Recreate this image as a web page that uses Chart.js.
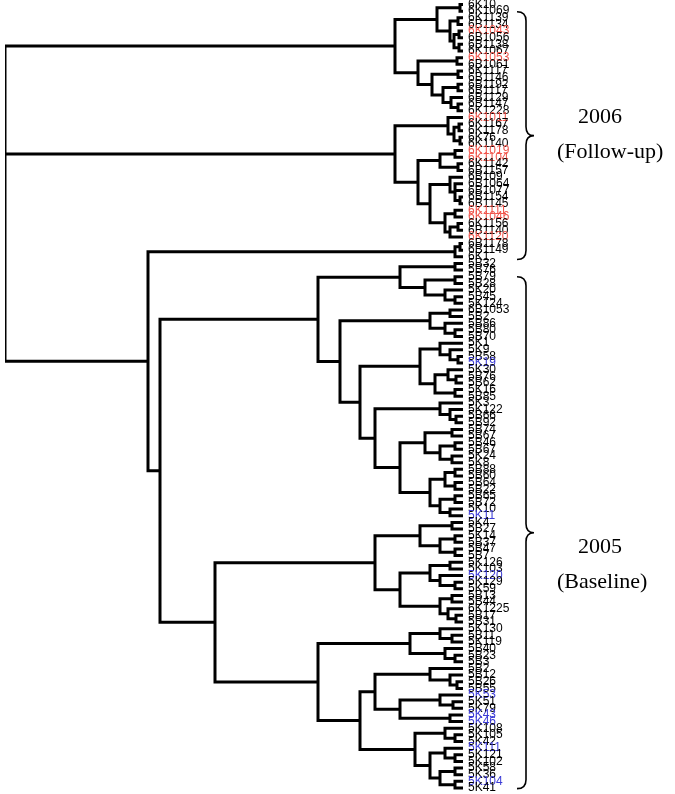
<!DOCTYPE html>
<html>
<head>
<meta charset="utf-8">
<script src="https://cdn.jsdelivr.net/npm/chart.js@4/dist/chart.umd.min.js"></script>
<style>
  html, body { margin: 0; background: #fff; }
  #wrap { width: 675px; height: 794px; }
</style>
</head>
<body>
<div id="wrap"><canvas id="tree"></canvas></div>
<script>
// leaf names, top to bottom
const leaves = [
  '6K10','6K1069','6K1139','6B1134','6K1043','6B1056','6B1138','6K1067','6K1053','6B1061',
  '6K1117','6B1146','6B1192','6B1117','6B1129','6B1147','6K1228','6K1011','6K1167','6K1178',
  '6K76','6K1140','6K1019','6K1104','6K1142','6B1157','6B109','6B1064','6B1077','6B1154',
  '6B1145','6K1111','6K1046','6K1156','6B1140','6K1120','6B1178','6B1149','6K1','5B32',
  '5B76','5B79','5B28','5K20','5B45','5K124','6B1053','5B2','5B86','5B80',
  '5B70','5K1','5K9','5B58','5K19','5K30','5B76','5B62','5K16','5B85',
  '5K3','5K122','5B66','5B92','5B74','5B67','5B46','5B67','5K24','5K8',
  '5B88','5B60','5B64','5B22','5B65','5B72','5K10','5K11','5K4','5B27',
  '5K14','5B37','5B47','5B7','5K126','5K103','5K120','5K129','5K59','5B13',
  '5B44','6K1225','5B17','5B31','5K130','5B11','5K119','5B40','5B23','5B3',
  '5B2','5B12','5B26','5B55','5K53','5K51','5K79','5K43','5K46','5K108',
  '5K105','5K42','5K111','5K121','5K102','5K58','5K36','5K104','5K41'
];

// highlighted leaves (index into leaves)
const redLeaves = [4, 8, 17, 22, 23, 31, 32, 35];
const blueLeaves = [54, 77, 86, 104, 107, 108, 112, 117];

// clusters: [first leaf, last leaf, merge distance]
const clusters = [
  [0,118,45.8],
  // 2006 upper block
  [0,16,6.8], [0,7,2.6], [0,1,0.3], [2,7,1.3], [2,3,0.5], [4,7,0.9], [4,5,0.4], [6,7,0.4],
  [8,16,4.5], [8,9,0.6], [10,16,3.1], [10,11,0.5], [12,16,2.0], [12,13,0.5], [14,16,1.2], [15,16,0.5],
  // 2006 lower block
  [17,35,6.8], [17,21,1.5], [18,21,0.9], [18,19,0.4], [20,21,0.3],
  [22,35,4.5], [22,25,2.3], [22,23,0.8], [24,25,0.5],
  [26,35,3.3], [26,30,1.3], [27,30,0.8], [29,30,0.3], [31,35,1.8], [31,32,0.8], [33,35,1.3], [33,34,0.5],
  // the rest
  [36,118,31.5], [36,38,0.8], [36,37,0.3],
  [39,118,30.3],
  [39,77,14.5], [39,45,6.3], [39,40,0.8], [41,45,3.8], [41,42,0.8], [43,45,1.8], [44,45,0.8],
  [46,77,12.3], [46,50,3.3], [46,47,1.3], [48,50,1.8], [49,50,0.8],
  [51,77,10.3], [51,59,4.3], [51,54,2.3], [52,54,1.3], [53,54,0.5], [55,59,2.8], [55,57,1.5], [56,57,0.7], [58,59,0.8],
  [60,77,8.8], [60,63,2.3], [61,63,1.3], [62,63,0.7],
  [64,77,6.3], [64,69,3.8], [64,65,1.1], [66,69,2.3], [66,67,0.8], [68,69,1.1],
  [70,77,3.3], [70,73,1.8], [70,71,0.8], [72,73,0.8], [74,77,2.3], [74,75,0.8], [76,77,1.3],
  [78,118,24.8],
  [78,93,8.8], [78,83,4.3], [78,79,1.1], [80,83,2.3], [80,81,0.8], [82,83,0.8],
  [84,93,6.3], [84,88,3.3], [84,85,1.3], [86,88,2.3], [87,88,0.8], [89,93,2.3], [89,90,1.1], [91,93,1.5], [92,93,0.7],
  [94,118,14.5], [94,99,5.3], [94,96,2.3], [95,96,1.1], [97,99,1.8], [98,99,0.8],
  [100,118,10.3], [100,108,8.8], [100,103,3.3], [101,103,1.3], [102,103,0.6],
  [104,108,6.3], [104,106,2.3], [105,106,1.0], [107,108,1.3],
  [109,118,4.8], [109,111,1.8], [110,111,0.8], [112,118,3.3], [112,114,1.8], [113,114,0.8],
  [115,118,2.3], [115,116,0.8], [117,118,0.8]
];

// group brackets: [first leaf, last leaf, label lines, label centre]
const groups = [
  [1.1, 38.4, ['2006', '(Follow-up)'], 19.65],
  [41, 118.1, ['2005', '(Baseline)'], 84.5]
];

const red = '#f0554c';
const blue = '#3c3cd6';

// turn the cluster list into a set of elbow paths
function buildSegments() {
  const nodes = clusters.map(c => ({ a: c[0], b: c[1], h: c[2], kids: [] }));
  nodes.sort((p, q) => (q.b - q.a) - (p.b - p.a));
  nodes.forEach((n, i) => {
    let parent = null;
    for (let j = 0; j < i; j++) {
      const p = nodes[j];
      if (p.a <= n.a && p.b >= n.b && (p.a !== n.a || p.b !== n.b)) {
        if (!parent || (p.b - p.a) < (parent.b - parent.a)) parent = p;
      }
    }
    if (parent) parent.kids.push(n);
  });
  const pts = [];
  const gap = { x: null, y: null };
  function walk(n) {
    const kids = [];
    let i = n.a;
    const sub = n.kids.slice().sort((p, q) => p.a - q.a);
    sub.forEach(k => {
      while (i < k.a) { kids.push({ h: 0, y: i }); i++; }
      kids.push({ h: k.h, y: walk(k) });
      i = k.b + 1;
    });
    while (i <= n.b) { kids.push({ h: 0, y: i }); i++; }
    const first = kids[0], last = kids[kids.length - 1];
    pts.push({ x: first.h, y: first.y }, { x: n.h, y: first.y },
             { x: n.h, y: last.y }, { x: last.h, y: last.y }, gap);
    kids.slice(1, -1).forEach(k => {
      pts.push({ x: k.h, y: k.y }, { x: n.h, y: k.y }, gap);
    });
    return (first.y + last.y) / 2;
  }
  walk(nodes[0]);
  return pts;
}

// curly brackets with group names
const bracePlugin = {
  id: 'braces',
  afterDraw(chart) {
    const ctx = chart.ctx;
    const yScale = chart.scales.y;
    const x0 = chart.chartArea.right + 54;
    ctx.save();
    ctx.strokeStyle = '#000';
    ctx.lineWidth = 1.6;
    groups.forEach(g => {
      const top = yScale.getPixelForValue(g[0]);
      const bot = yScale.getPixelForValue(g[1]);
      const mid = (top + bot) / 2;
      const r = 9;
      ctx.beginPath();
      ctx.moveTo(x0, top);
      ctx.quadraticCurveTo(x0 + r, top, x0 + r, top + r);
      ctx.lineTo(x0 + r, mid - r);
      ctx.quadraticCurveTo(x0 + r, mid, x0 + r + 8, mid);
      ctx.quadraticCurveTo(x0 + r, mid, x0 + r, mid + r);
      ctx.lineTo(x0 + r, bot - r);
      ctx.quadraticCurveTo(x0 + r, bot, x0, bot);
      ctx.stroke();
      const cy = yScale.getPixelForValue(g[3]);
      ctx.fillStyle = '#000';
      ctx.font = '22px "Liberation Serif", "DejaVu Serif", serif';
      ctx.textBaseline = 'middle';
      ctx.textAlign = 'left';
      ctx.fillText(g[2][0], x0 + 61, cy - 18);
      ctx.fillText(g[2][1], x0 + 40, cy + 17);
    });
    ctx.restore();
  }
};

const config = {
  type: 'scatter',
  data: {
    datasets: [{
      data: buildSegments(),
      showLine: true,
      spanGaps: false,
      borderColor: '#000',
      borderWidth: 3,
      borderJoinStyle: 'miter',
      borderCapStyle: 'butt',
      pointRadius: 0,
      pointHoverRadius: 0
    }]
  },
  options: {
    responsive: true,
    maintainAspectRatio: false,
    animation: false,
    events: [],
    layout: { padding: { left: 5, top: 1.2, bottom: 2.7, right: 0 } },
    plugins: { legend: { display: false }, tooltip: { enabled: false } },
    scales: {
      x: {
        type: 'linear', min: 0, max: 45.8, reverse: true, display: false
      },
      y: {
        type: 'linear', position: 'right', reverse: true,
        min: -0.5, max: leaves.length - 0.5,
        afterBuildTicks(scale) { scale.ticks = leaves.map((_, i) => ({ value: i })); },
        afterFit(scale) {
          scale.width = 212;
          // let the first and last leaf sit close to the edges
          scale.paddingTop = 0;
          scale.paddingBottom = 0;
        },
        grid: { display: false, drawTicks: false },
        border: { display: false },
        ticks: {
          autoSkip: false,
          padding: 5,
          callback: (v, i) => leaves[i],
          font: { family: '"Liberation Sans Narrow", "Liberation Sans", Arial, sans-serif', size: 12 },
          color: c => redLeaves.includes(c.index) ? red : (blueLeaves.includes(c.index) ? blue : '#000')
        }
      }
    }
  },
  plugins: [bracePlugin]
};

new Chart(document.getElementById('tree').getContext('2d'), config);
</script>
</body>
</html>
